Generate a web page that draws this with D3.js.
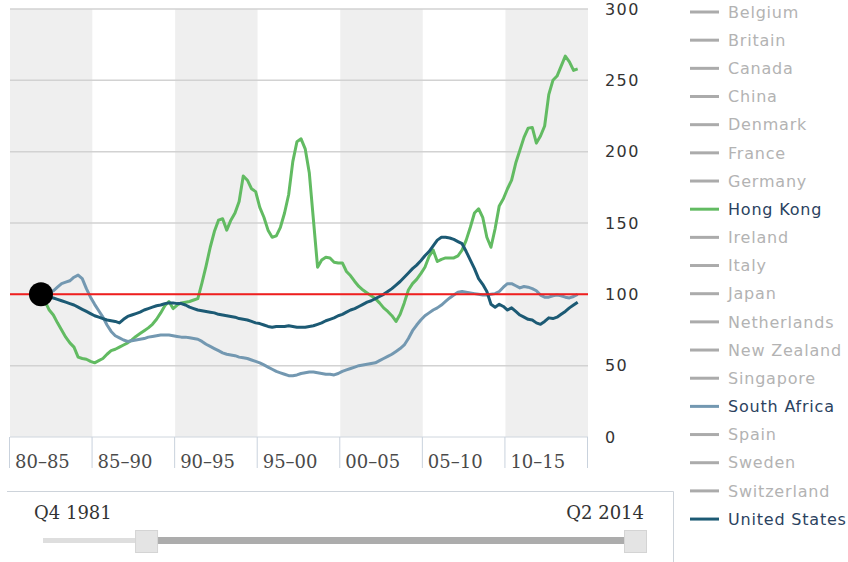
<!DOCTYPE html>
<html>
<head>
<meta charset="utf-8">
<script src="https://cdn.jsdelivr.net/npm/d3@7"></script>
<style>
  body { margin: 0; background: #fff; }
  svg text { font-family: "DejaVu Sans", Verdana, sans-serif; }
</style>
</head>
<body>
<svg id="chart" width="848" height="562"></svg>
<script>
// Five-year periods shown as alternating bands along the time axis
const periodLabels = ["80–85", "85–90", "90–95", "95–00", "00–05", "05–10", "10–15"];
const periodStarts = [1980, 1985, 1990, 1995, 2000, 2005, 2010];
const periodEnd = 2015;

// Index value ticks (Q4 1981 = 100)
const yTicks = [0, 50, 100, 150, 200, 250, 300];
const baseValue = 100;

// Countries available in the selector
const countries = ["Belgium", "Britain", "Canada", "China", "Denmark", "France", "Germany",
  "Hong Kong", "Ireland", "Italy", "Japan", "Netherlands", "New Zealand", "Singapore",
  "South Africa", "Spain", "Sweden", "Switzerland", "United States"];

// Quarterly series, starting Q4 1981 and ending Q2 2014
const firstYear = 1981, firstQuarter = 4;

const hongKong = [
  100,
  95, 89, 85.5, 80,
  75, 70, 66, 63,
  56, 55, 54.5, 53,
  52, 53.5, 55, 58,
  60.5, 61.5, 63, 64.5,
  66, 68, 70.5, 72.5,
  74.5, 76.5, 79, 82.5,
  87, 92, 95, 90,
  92.5, 94, 94.5, 95,
  96, 97, 108, 120,
  133, 144, 152, 153,
  145, 152, 157, 165,
  183, 180, 174, 172,
  161, 154, 145, 140,
  141, 147, 157, 170,
  193, 207, 209, 202,
  185, 152, 119, 124,
  126, 125.5, 122.5, 122,
  122, 116, 113, 109,
  105.5, 103, 101, 99,
  97, 94, 90.5, 88,
  85, 81, 86, 94,
  103, 107.5, 110.5, 114.5,
  119, 126.5, 131, 123,
  124.5, 125.5, 125.5, 125.5,
  127, 131, 138, 147,
  157, 160, 154, 140,
  133, 146, 162, 167,
  174, 180, 192, 201,
  210, 216.5, 217, 206,
  211, 218, 240, 250,
  253, 260, 267, 263,
  257, 258
];

const southAfrica = [
  100,
  101, 101.5, 102.5, 105,
  107.5, 108.5, 109.5, 112,
  113.5, 111, 104, 98,
  93, 88.5, 84, 78.5,
  74, 71, 69.5, 68,
  67, 67.5, 68, 68.5,
  69, 70, 70.5, 71,
  71.5, 71.5, 71.5, 71,
  70.5, 70, 70, 69.5,
  69, 68.5, 67, 65,
  63.5, 62, 60.5, 59,
  58, 57.5, 57, 56,
  55.5, 55, 54, 53,
  52, 50.5, 49, 47.5,
  46, 45, 44, 43,
  43, 43.5, 44.5, 45,
  45.5, 45.5, 45, 44.5,
  44, 44, 43.5, 44.5,
  46, 47, 48, 49,
  50, 50.5, 51, 51.5,
  52, 53.5, 55, 56.5,
  58, 60, 62, 64.5,
  69, 74.5, 78.5, 82,
  85, 87, 89, 90.5,
  92.5, 95, 97.5, 99.5,
  101.5, 102, 101.5, 101,
  100.5, 100, 99.5, 99.5,
  100, 100.5, 102, 105,
  107.5, 107.5, 106, 104.5,
  105.5, 105, 104, 102.5,
  99.5, 98, 98, 99,
  99.5, 99, 98, 97.5,
  98.5, 100
];

const unitedStates = [
  100,
  99, 98, 97.4, 96.5,
  95.5, 94.5, 93.5, 92.5,
  91, 89.5, 88, 86.5,
  85, 84, 83, 82,
  81.5, 81, 80, 82.5,
  84.5, 85.5, 86.5, 87.5,
  89, 90, 91, 92,
  92.5, 93.5, 94, 94,
  93.5, 93.5, 92.5, 91,
  90, 89, 88.5, 88,
  87.5, 87, 86, 85.5,
  85, 84.5, 84, 83,
  82.5, 82, 81, 80,
  79.5, 78.5, 77.5, 77,
  77.5, 77.5, 77.5, 78,
  77.5, 77, 77, 77,
  77.5, 78, 79, 80,
  81.5, 82.5, 83.5, 85,
  86, 87.5, 89, 90,
  91.5, 93, 94.5, 95.5,
  97, 98.5, 100, 102,
  104, 106.5, 109, 112,
  115, 118, 120.5, 123.5,
  127, 130, 134, 138,
  140, 140, 139.5, 138.5,
  137, 135.5, 130, 124,
  118, 111, 107, 102,
  93, 91, 93, 91.5,
  89, 90.5, 88, 85.5,
  84, 82.5, 82, 80,
  79, 81, 83.5, 83,
  84, 86, 88, 90.5,
  92.5, 94.5
];

const seriesList = [
  { name: "Hong Kong", values: hongKong, color: "#62bb62" },
  { name: "South Africa", values: southAfrica, color: "#7398b1" },
  { name: "United States", values: unitedStates, color: "#1c5a74" }
];

// Range selector
const sliderDomain = [1975, 2014.25];
const rangeLabels = ["Q4 1981", "Q2 2014"];
const rangeValues = [1981.75, 2014.25];

// ---- drawing ----
const svg = d3.select("#chart");

const x = d3.scaleLinear().domain([periodStarts[0], periodEnd]).range([10, 588]);
const y = d3.scaleLinear().domain([0, 300]).range([437, 9]);

// time of a quarter index (plotted mid-quarter)
const quarterTime = i => firstYear + (firstQuarter - 1) / 4 + 0.125 + i * 0.25;

// alternating bands
svg.append("g").selectAll("rect")
  .data(periodStarts)
  .join("rect")
  .attr("x", d => x(d))
  .attr("y", y(300))
  .attr("width", d => x(d + 5) - x(d))
  .attr("height", y(0) - y(300))
  .attr("fill", (d, i) => i % 2 === 0 ? "#efefef" : "#ffffff");

// horizontal gridlines
svg.append("g").selectAll("line")
  .data(yTicks.filter(d => d > 0))
  .join("line")
  .attr("x1", x.range()[0]).attr("x2", x.range()[1])
  .attr("y1", d => y(d)).attr("y2", d => y(d))
  .attr("stroke", "#d2d2d2").attr("stroke-width", 1.5);

// period label strip
const strip = svg.append("g");
strip.append("line")
  .attr("x1", x.range()[0]).attr("x2", x.range()[1])
  .attr("y1", y(0)).attr("y2", y(0))
  .attr("stroke", "#cfd6de").attr("stroke-width", 1);
strip.selectAll("line.div")
  .data(periodStarts.concat([periodEnd]))
  .join("line")
  .attr("class", "div")
  .attr("x1", d => x(d) - 0.5).attr("x2", d => x(d) - 0.5)
  .attr("y1", y(0)).attr("y2", y(0) + 31)
  .attr("stroke", "#c9d2dd").attr("stroke-width", 1);
strip.selectAll("text")
  .data(periodLabels)
  .join("text")
  .attr("x", (d, i) => x(periodStarts[i]) + 5)
  .attr("y", y(0) + 31)
  .attr("font-family", "'DejaVu Serif', serif")
  .attr("style", "font-family:'DejaVu Serif', serif")
  .attr("font-size", 18)
  .attr("fill", "#4a4a4a")
  .text(d => d);

// y axis on the right
const yAxis = svg.append("g")
  .attr("transform", "translate(605,0)")
  .call(d3.axisRight(y).tickValues(yTicks).tickSize(0).tickPadding(0));
yAxis.select(".domain").remove();
yAxis.selectAll("text")
  .attr("font-size", 16)
  .attr("letter-spacing", "1.4px")
  .attr("fill", "#333")
  .attr("style", "font-family:'DejaVu Sans', Verdana, sans-serif");

// series lines
const line = d3.line()
  .x((d, i) => x(quarterTime(i)))
  .y(d => y(d));

svg.append("g").selectAll("path")
  .data(seriesList)
  .join("path")
  .attr("d", d => line(d.values))
  .attr("fill", "none")
  .attr("stroke", d => d.color)
  .attr("stroke-width", 3)
  .attr("stroke-linejoin", "round");

// base line at 100
svg.append("line")
  .attr("x1", x.range()[0]).attr("x2", x.range()[1])
  .attr("y1", y(baseValue)).attr("y2", y(baseValue))
  .attr("stroke", "#f01e1e").attr("stroke-width", 2);

// base point
svg.append("circle")
  .attr("cx", x(quarterTime(0)))
  .attr("cy", y(baseValue))
  .attr("r", 12)
  .attr("fill", "#000");

// legend
const active = new Map(seriesList.map(s => [s.name, s.color]));
const legend = svg.append("g").selectAll("g")
  .data(countries)
  .join("g")
  .attr("transform", (d, i) => `translate(690,${12 + i * 28.17})`);
legend.append("line")
  .attr("x1", 0).attr("x2", 29)
  .attr("stroke", d => active.get(d) || "#ababab")
  .attr("stroke-width", 3);
legend.append("text")
  .attr("x", 38)
  .attr("dy", "0.36em")
  .attr("font-size", 16)
  .attr("letter-spacing", "0.8px")
  .attr("fill", d => active.has(d) ? "#2b4260" : "#b3b3b3")
  .text(d => d);

// range selector box
const sx = d3.scaleLinear().domain(sliderDomain).range([45, 635.5]);
const slider = svg.append("g");
slider.append("path")
  .attr("d", "M7,491.5H673.5V562")
  .attr("fill", "none")
  .attr("stroke", "#cdd3da").attr("stroke-width", 1);
slider.append("text")
  .attr("x", 34).attr("y", 519)
  .attr("font-size", 18)
  .attr("style", "font-family:'DejaVu Serif', serif")
  .attr("fill", "#333")
  .text(rangeLabels[0]);
slider.append("text")
  .attr("x", 644).attr("y", 519)
  .attr("text-anchor", "end")
  .attr("font-size", 18)
  .attr("style", "font-family:'DejaVu Serif', serif")
  .attr("fill", "#333")
  .text(rangeLabels[1]);
slider.append("rect")
  .attr("x", sx(sliderDomain[0]) - 2).attr("y", 538)
  .attr("width", sx(rangeValues[0]) - sx(sliderDomain[0]))
  .attr("height", 5)
  .attr("fill", "#dedede");
slider.append("rect")
  .attr("x", sx(rangeValues[0])).attr("y", 537)
  .attr("width", sx(rangeValues[1]) - sx(rangeValues[0]))
  .attr("height", 7)
  .attr("fill", "#acacac");
slider.selectAll("rect.handle")
  .data(rangeValues)
  .join("rect")
  .attr("class", "handle")
  .attr("x", d => sx(d) - 11).attr("y", 530.5)
  .attr("width", 22).attr("height", 22)
  .attr("fill", "#e4e4e4")
  .attr("stroke", "#d4d4d4").attr("stroke-width", 1);
</script>
</body>
</html>
